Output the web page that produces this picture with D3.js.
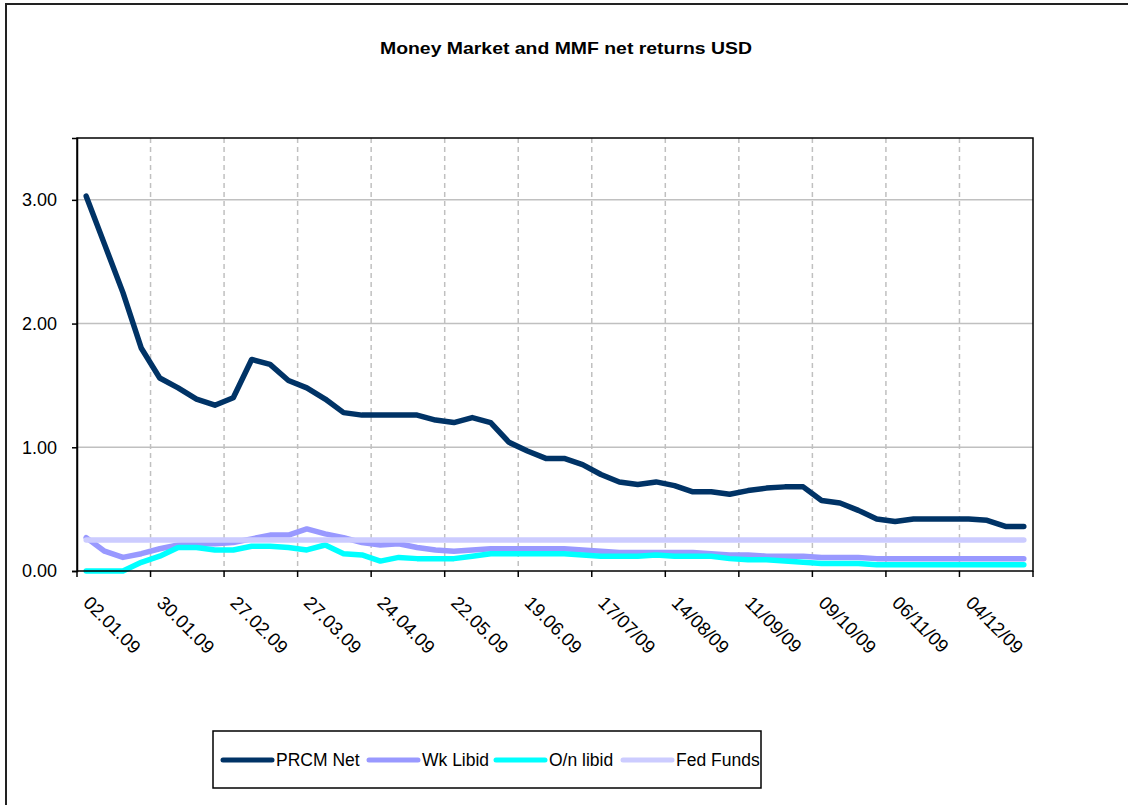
<!DOCTYPE html>
<meta charset="utf-8">
<style>
body { margin: 0; background: #fff; }
text { font-family: Arial, "Liberation Sans", sans-serif; fill: #000; }
.grid-h line { stroke: #c0c0c0; stroke-width: 1.5px; }
.grid-v line { stroke: #c0c0c0; stroke-width: 1.5px; stroke-dasharray: 5,4; }
.series { fill: none; stroke-width: 5.5px; stroke-linejoin: round; stroke-linecap: round; }
</style>
<body>
<script src="https://d3js.org/d3.v7.min.js"></script>
<script>

// weekly dates (labels as printed on the chart)
var dates = [
  "02.01.09","09.01.09","16.01.09","23.01.09","30.01.09",
  "06.02.09","13.02.09","20.02.09","27.02.09",
  "06.03.09","13.03.09","20.03.09","27.03.09",
  "03.04.09","10.04.09","17.04.09","24.04.09",
  "01.05.09","08.05.09","15.05.09","22.05.09","29.05.09",
  "05.06.09","12.06.09","19.06.09","26.06.09",
  "03/07/09","10/07/09","17/07/09","24/07/09","31/07/09",
  "07/08/09","14/08/09","21/08/09","28/08/09",
  "04/09/09","11/09/09","18/09/09","25/09/09",
  "02/10/09","09/10/09","16/10/09","23/10/09","30/10/09",
  "06/11/09","13/11/09","20/11/09","27/11/09",
  "04/12/09","11/12/09","18/12/09","25/12/09"
];

var prcmNet = [3.03,2.64,2.25,1.80,1.56,1.48,1.39,1.34,1.40,1.71,1.67,1.54,1.48,1.39,1.28,1.26,
  1.26,1.26,1.26,1.22,1.20,1.24,1.20,1.04,0.97,0.91,0.91,0.86,0.78,0.72,0.70,0.72,0.69,0.64,
  0.64,0.62,0.65,0.67,0.68,0.68,0.57,0.55,0.49,0.42,0.40,0.42,0.42,0.42,0.42,0.41,0.36,0.36];

var wkLibid = [0.27,0.16,0.11,0.14,0.18,0.21,0.22,0.22,0.23,0.26,0.29,0.29,0.34,0.30,0.27,0.23,
  0.21,0.22,0.19,0.17,0.16,0.17,0.18,0.18,0.18,0.18,0.18,0.17,0.16,0.15,0.15,0.15,0.15,0.15,
  0.14,0.13,0.13,0.12,0.12,0.12,0.11,0.11,0.11,0.10,0.10,0.10,0.10,0.10,0.10,0.10,0.10,0.10];

var onLibid = [0.00,0.00,0.00,0.07,0.12,0.19,0.19,0.17,0.17,0.20,0.20,0.19,0.17,0.21,0.14,0.13,
  0.08,0.11,0.10,0.10,0.10,0.12,0.14,0.14,0.14,0.14,0.14,0.13,0.12,0.12,0.12,0.13,0.12,0.12,
  0.12,0.10,0.09,0.09,0.08,0.07,0.06,0.06,0.06,0.05,0.05,0.05,0.05,0.05,0.05,0.05,0.05,0.05];

var fedFunds = [0.25,0.25,0.25,0.25,0.25,0.25,0.25,0.25,0.25,0.25,0.25,0.25,0.25,0.25,0.25,0.25,
  0.25,0.25,0.25,0.25,0.25,0.25,0.25,0.25,0.25,0.25,0.25,0.25,0.25,0.25,0.25,0.25,0.25,0.25,
  0.25,0.25,0.25,0.25,0.25,0.25,0.25,0.25,0.25,0.25,0.25,0.25,0.25,0.25,0.25,0.25,0.25,0.25];

var seriesNames = ["PRCM Net", "Wk Libid", "O/n libid", "Fed Funds"];
var seriesColors = ["#003366", "#9999ff", "#00ffff", "#ccccff"];
var yTicks = [0, 1, 2, 3];

var series = [prcmNet, wkLibid, onLibid, fedFunds].map(function(v, i) {
  return { name: seriesNames[i], color: seriesColors[i], values: v };
});

var W = 1128, H = 805;
var plot = { left: 77, right: 1033, top: 138, bottom: 571 };

var svg = d3.select("body").append("svg")
    .attr("width", W)
    .attr("height", H);

// outer chart frame
svg.append("rect")
  .attr("x", 6).attr("y", 4)
  .attr("width", W + 20).attr("height", H + 20)
  .attr("fill", "#fff")
  .attr("stroke", "#222")
  .attr("stroke-width", 2);

var x = d3.scaleBand().domain(dates).range([plot.left, plot.right]).padding(0);
var y = d3.scaleLinear().domain([0, 3.5]).range([plot.bottom, plot.top]);

// title
svg.append("text")
  .attr("x", 566)
  .attr("y", 54)
  .attr("text-anchor", "middle")
  .attr("font-weight", "bold")
  .attr("font-size", "17px")
  .attr("textLength", 372)
  .attr("lengthAdjust", "spacingAndGlyphs")
  .text("Money Market and MMF net returns USD");

// horizontal gridlines
svg.append("g")
  .attr("class", "grid-h")
  .selectAll("line")
  .data(yTicks.filter(function(d) { return d > 0; }))
  .enter().append("line")
    .attr("x1", plot.left).attr("x2", plot.right)
    .attr("y1", function(d) { return y(d); })
    .attr("y2", function(d) { return y(d); });

// every 4th week gets a tick / dashed gridline
var tickDates = dates.filter(function(d, i) { return i % 4 === 0; });

svg.append("g")
  .attr("class", "grid-v")
  .selectAll("line")
  .data(tickDates.slice(1))
  .enter().append("line")
    .attr("x1", function(d) { return x(d); })
    .attr("x2", function(d) { return x(d); })
    .attr("y1", plot.top).attr("y2", plot.bottom);

// lines
var line = d3.line()
  .x(function(d, i) { return x(dates[i]) + x.bandwidth() / 2; })
  .y(function(d) { return y(d); });

svg.append("g").selectAll("path")
  .data(series)
  .enter().append("path")
    .attr("class", "series")
    .attr("stroke", function(d) { return d.color; })
    .attr("d", function(d) { return line(d.values); });

// plot border
svg.append("rect")
  .attr("x", plot.left).attr("y", plot.top)
  .attr("width", plot.right - plot.left)
  .attr("height", plot.bottom - plot.top)
  .attr("fill", "none")
  .attr("stroke", "#000")
  .attr("stroke-width", 1.5);

// y axis
var gy = svg.append("g")
  .attr("transform", "translate(" + plot.left + ",0)")
  .call(d3.axisLeft(y).tickValues(yTicks).tickFormat(d3.format(".2f")).tickSize(5).tickPadding(15));
gy.select(".domain").attr("stroke", "#000").attr("stroke-width", 1.5);
gy.selectAll(".tick line").attr("stroke", "#000").attr("stroke-width", 1.5);
gy.selectAll("text")
  .attr("font-size", "18px")
  .attr("font-family", "Arial, 'Liberation Sans', sans-serif")
  .attr("fill", "#000");

// x axis ticks at week boundaries
var gx = svg.append("g");
gx.selectAll("line")
  .data(tickDates.concat(["end"]))
  .enter().append("line")
    .attr("x1", function(d) { return d === "end" ? plot.right : x(d); })
    .attr("x2", function(d) { return d === "end" ? plot.right : x(d); })
    .attr("y1", plot.bottom).attr("y2", plot.bottom + 6)
    .attr("stroke", "#000").attr("stroke-width", 1.5);

gx.selectAll("text")
  .data(tickDates)
  .enter().append("text")
    .attr("font-size", "18.5px")
    .attr("transform", function(d) {
      return "translate(" + (x(d) + x.bandwidth() / 2 - 4) + "," + (plot.bottom + 33) + ") rotate(45)";
    })
    .text(function(d) { return d; });

// legend
var legend = svg.append("g");
legend.append("rect")
  .attr("x", 213).attr("y", 731)
  .attr("width", 548).attr("height", 57)
  .attr("fill", "#fff")
  .attr("stroke", "#000")
  .attr("stroke-width", 1.5);

var legendX = [223, 369, 496, 623];
var item = legend.selectAll(".item")
  .data(series)
  .enter().append("g")
    .attr("transform", function(d, i) { return "translate(" + legendX[i] + ",760)"; });

item.append("line")
  .attr("x1", 0).attr("x2", 49)
  .attr("stroke", function(d) { return d.color; })
  .attr("stroke-width", 5)
  .attr("stroke-linecap", "round");

item.append("text")
  .attr("x", 53)
  .attr("y", 6)
  .attr("font-size", "17.5px")
  .text(function(d) { return d.name; });

</script>
</body>
